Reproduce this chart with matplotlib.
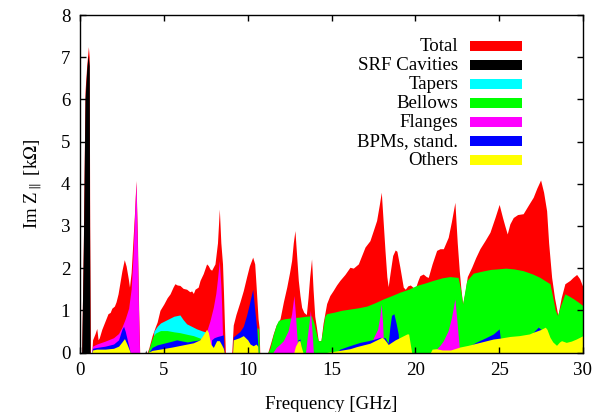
import matplotlib
matplotlib.use("Agg")
import matplotlib.pyplot as plt
from matplotlib.patches import Rectangle

plt.rcParams['font.family'] = ['Liberation Serif', 'DejaVu Serif']
plt.rcParams['mathtext.fontset'] = 'stix'

# frequency [GHz] and Im Z_par [kOhm] for each contribution, zeros close every lobe
f_total = [0.1, 0.2, 0.26, 0.3, 0.4, 0.5, 0.55, 0.58, 0.62,
           0.7, 0.75, 0.9, 1.0, 1.08, 1.15, 1.3, 1.5, 1.67, 1.8, 1.9, 2.05, 2.15, 2.27, 2.4, 2.5,
           2.64, 2.75, 2.88, 2.95, 3.05, 3.15, 3.25, 3.34, 3.42, 3.5, 3.56,
           4.0, 4.1, 4.3, 4.5, 4.6, 4.77, 5.0, 5.2, 5.37, 5.55, 5.66, 5.8, 5.96, 6.15, 6.36, 6.55,
           6.66, 6.76, 6.86, 7.05, 7.16, 7.35, 7.55, 7.65, 7.75, 7.85, 8.05, 8.2, 8.31, 8.4, 8.5,
           8.56, 8.62, 8.67,
           9.05, 9.14, 9.3, 9.54, 9.74, 9.94, 10.1, 10.3, 10.42, 10.5, 10.62, 10.68, 10.72,
           11.2, 11.35, 11.53, 11.7, 11.93, 12.13, 12.33, 12.5, 12.62, 12.72, 12.82, 12.92, 13.02,
           13.12, 13.22, 13.35, 13.5, 13.6, 13.7, 13.81, 13.9, 14.0, 14.1, 14.21, 14.37, 14.5,
           14.71, 14.9, 15.1, 15.3, 15.5, 15.8, 16.1, 16.3, 16.6, 16.8, 17.0, 17.29, 17.5, 17.69,
           17.85, 17.97, 18.05, 18.19, 18.3, 18.38, 18.5, 18.65, 18.8, 18.9, 19.08, 19.28, 19.4,
           19.55, 19.7, 19.85, 19.98, 20.15, 20.27, 20.47, 20.65, 20.77, 21.0, 21.27, 21.47,
           21.67, 21.96, 22.15, 22.36, 22.5, 22.62, 22.72, 22.82, 22.95, 23.1, 23.36, 23.6,
           23.85, 24.15, 24.45, 24.75, 25.0, 25.2, 25.34, 25.48, 25.64, 25.84, 26.1, 26.43,
           26.75, 27.03, 27.25, 27.47, 27.65, 27.83, 27.95, 28.13, 28.3, 28.5, 28.7, 28.92,
           29.22, 29.4, 29.62, 29.8, 30.0]
z_total = [0, 2.6, 4.8, 6.2, 6.8, 7.25, 7.0, 3.0, 0,
           0, 0.3, 0.45, 0.57, 0.3, 0.35, 0.55, 0.75, 0.92, 0.95, 1.05, 1.1, 1.2, 1.39, 1.7, 1.94,
           2.2, 2.05, 1.75, 1.55, 1.9, 2.6, 3.3, 4.08, 2.8, 1.0, 0,
           0, 0.1, 0.4, 0.62, 0.72, 1.0, 1.15, 1.3, 1.39, 1.55, 1.63, 1.6, 1.59, 1.52, 1.5, 1.44,
           1.46, 1.4, 1.5, 1.55, 1.71, 1.87, 2.1, 2.06, 1.98, 1.95, 2.1, 2.6, 3.4, 2.6, 2.1,
           1.4, 0.6, 0,
           0, 0.65, 0.9, 1.2, 1.47, 1.8, 2.05, 2.26, 2.1, 1.6, 0.8, 0.6, 0,
           0, 0.2, 0.45, 0.65, 0.8, 1.2, 1.55, 1.9, 2.18, 2.6, 2.89, 2.3, 1.71,
           1.35, 1.07, 0.95, 0.9, 1.3, 1.8, 2.22, 1.5, 0.86, 0.6, 0.28, 0.28, 0.7,
           1.16, 1.35, 1.47, 1.6, 1.71, 1.85, 2.02, 2.0, 2.1, 2.3, 2.5, 2.65, 2.9, 3.13,
           3.5, 3.8, 3.3, 2.42, 1.8, 1.56, 1.9, 2.3, 2.43, 2.4, 2.02, 1.55, 1.5,
           1.58, 1.6, 1.55, 1.5, 1.7, 1.82, 1.86, 1.8, 1.78, 2.1, 2.42, 2.46,
           2.46, 2.73, 3.1, 3.56, 2.6, 1.94, 1.5, 1.15, 1.4, 1.8, 2.02, 2.25,
           2.46, 2.65, 2.85, 3.2, 3.51, 3.2, 3.0, 2.81, 3.05, 3.2, 3.27, 3.29,
           3.5, 3.68, 3.9, 4.09, 3.8, 3.36, 2.6, 1.78, 1.3, 0.88, 1.3, 1.63,
           1.71, 1.78, 1.85, 1.75, 1.55]

f_srf = [0.1, 0.2, 0.26, 0.3, 0.4, 0.48, 0.55, 0.57, 0.6,
         0.95, 1.0, 1.05, 1.72, 1.76, 1.8, 2.15, 2.2, 2.25, 2.62, 2.66, 2.7,
         3.38, 3.42, 3.46, 3.88, 3.92, 3.96, 5.4, 5.44, 5.48, 7.86, 7.9, 7.94]
z_srf = [0, 2.5, 4.6, 6.0, 6.7, 7.05, 6.8, 3.0, 0,
         0, 0.12, 0, 0, 0.1, 0, 0, 0.15, 0, 0, 0.12, 0,
         0, 0.08, 0, 0, 0.06, 0, 0, 0.05, 0, 0, 0.05, 0]

f_tapers = [4.35, 4.4, 4.6, 4.8, 5.2, 5.6, 5.96, 6.15, 6.36, 6.66, 6.96, 7.3, 7.55, 7.6]
z_tapers = [0, 0.5, 0.62, 0.7, 0.78, 0.86, 0.89, 0.78, 0.68, 0.62, 0.56, 0.51, 0.48, 0]

f_bellows = [4.05, 4.2, 4.35, 4.5, 4.8, 5.2, 5.6, 5.96, 6.4, 6.76, 7.1, 7.35, 7.45,
             10.52, 10.56, 10.66, 10.7,
             11.2, 11.33, 11.53, 11.7, 11.83, 12.2, 12.6, 13.12, 13.5, 13.8, 13.95, 14.1, 14.21,
             14.37, 14.5, 14.6, 14.71, 15.2, 15.6, 16.1, 16.6, 17.1, 17.6, 18.09, 18.6, 19.08,
             19.6, 20.08, 20.6, 21.07, 21.6, 22.06, 22.55, 22.7, 22.82, 22.95, 23.06, 23.45,
             24.0, 24.5, 24.85, 25.4, 25.9, 26.43, 27.0, 27.43, 28.03, 28.2, 28.35, 28.48,
             28.65, 28.92, 29.2, 29.41, 29.7, 30.0]
z_bellows = [0, 0.2, 0.38, 0.46, 0.52, 0.52, 0.49, 0.47, 0.43, 0.4, 0.35, 0.31, 0,
             0, 0.6, 0.55, 0,
             0, 0.1, 0.43, 0.65, 0.76, 0.8, 0.82, 0.84, 0.86, 0.87, 0.7, 0.45, 0.28,
             0.28, 0.6, 0.86, 0.92, 0.96, 1.0, 1.03, 1.06, 1.1, 1.18, 1.27, 1.35, 1.43,
             1.5, 1.59, 1.65, 1.71, 1.77, 1.8, 1.78, 1.5, 1.15, 1.45, 1.7, 1.88,
             1.93, 1.97, 1.98, 2.0, 1.98, 1.94, 1.86, 1.78, 1.63, 1.3, 1.0, 0.88,
             1.1, 1.39, 1.33, 1.28, 1.2, 1.11]

f_flanges = [0.7, 0.75, 1.0, 1.5, 2.0, 2.3, 2.5, 2.7, 2.9, 3.05, 3.15, 3.25, 3.34, 3.42, 3.5, 3.55,
             6.9, 6.96, 7.3, 7.55, 7.75, 7.95, 8.1, 8.19, 8.31, 8.4, 8.45, 8.5, 8.55,
             11.5, 11.7, 11.93, 12.13, 12.42, 12.62, 12.76, 12.85, 12.95, 13.0,
             13.45, 13.57, 13.66, 13.74, 13.82, 13.92,
             17.3, 17.5, 17.75, 17.88, 17.96, 18.05, 18.12,
             21.2, 21.3, 21.47, 21.67, 21.96, 22.16, 22.28, 22.36, 22.62, 22.64,
             27.25, 27.38, 27.5]
z_flanges = [0, 0.15, 0.2, 0.27, 0.35, 0.45, 0.6, 0.8, 1.05, 1.5, 2.2, 3.2, 4.04, 2.5, 0.8, 0,
             0, 0.2, 0.38, 0.5, 0.75, 1.07, 1.4, 1.71, 2.18, 1.6, 1.1, 0.4, 0,
             0, 0.12, 0.2, 0.28, 0.52, 0.92, 1.35, 0.9, 0.3, 0,
             0, 0.43, 0.7, 1.0, 0.6, 0,
             0, 0.35, 0.55, 0.85, 1.15, 0.7, 0,
             0, 0.1, 0.17, 0.28, 0.52, 0.84, 1.1, 1.27, 0.13, 0,
             0, 0.64, 0]

f_bpms = [0.7, 0.75, 1.0, 1.5, 2.0, 2.3, 2.5, 2.6, 2.7, 2.85, 3.0,
          4.1, 4.3, 4.6, 5.0, 5.4, 5.77, 6.0, 6.4, 6.8, 7.2, 7.5, 7.6,
          7.8, 7.85, 8.0, 8.2, 8.4, 8.55, 8.6,
          9.1, 9.14, 9.54, 9.74, 9.94, 10.1, 10.3, 10.4, 10.53, 10.6, 10.62,
          12.9, 13.0, 13.12, 13.2, 13.25,
          15.3, 15.5, 16.0, 16.7, 17.2, 17.59, 17.9, 18.2, 18.38, 18.48, 18.58, 18.72, 18.85,
          18.98, 19.05,
          23.0, 23.2, 23.65, 24.2, 24.65, 25.0, 25.08, 25.12,
          27.0, 27.03, 27.33, 27.5, 27.6]
z_bpms = [0, 0.1, 0.12, 0.15, 0.2, 0.3, 0.55, 0.62, 0.5, 0.25, 0,
          0, 0.12, 0.18, 0.22, 0.26, 0.3, 0.28, 0.25, 0.28, 0.3, 0.28, 0,
          0, 0.3, 0.35, 0.38, 0.4, 0.42, 0,
          0, 0.37, 0.5, 0.62, 0.89, 1.15, 1.5, 1.1, 0.6, 0.2, 0,
          0, 0.3, 0.32, 0.1, 0,
          0, 0.08, 0.15, 0.24, 0.28, 0.32, 0.36, 0.35, 0.22, 0.6, 0.88, 0.92, 0.7,
          0.44, 0,
          0, 0.15, 0.25, 0.35, 0.44, 0.56, 0.3, 0,
          0, 0.48, 0.6, 0.55, 0]

f_others = [0.7, 0.75, 1.0, 1.5, 2.0, 2.3, 2.5, 2.65, 2.8, 2.95, 3.0,
            4.05, 4.3, 4.77, 5.5, 6.0, 6.76, 7.15, 7.35, 7.55, 7.65, 7.8, 7.95, 8.15, 8.31,
            8.45, 8.55, 8.6,
            9.1, 9.14, 9.5, 9.74, 10.0, 10.15, 10.33, 10.5, 10.6, 10.62,
            12.75, 12.85, 13.02, 13.12, 13.22, 13.3,
            14.7, 15.5, 16.1, 16.5, 17.29, 17.7, 18.0, 18.1, 18.3, 18.38, 18.8, 19.2, 19.5,
            19.6, 19.78,
            20.9, 21.0, 21.27, 21.6, 22.1, 22.66, 23.15, 23.65, 24.15, 24.65, 25.04, 25.64,
            26.2, 26.8, 27.03, 27.45, 27.75, 27.85, 28.03, 28.2, 28.42, 28.6, 28.72, 29.0,
            29.3, 29.6, 30.0]
z_others = [0, 0.06, 0.08, 0.08, 0.1, 0.15, 0.25, 0.33, 0.2, 0.05, 0,
            0, 0.05, 0.08, 0.13, 0.17, 0.23, 0.3, 0.42, 0.55, 0.48, 0.2, 0.12, 0.28, 0.28,
            0.18, 0.1, 0,
            0, 0.3, 0.35, 0.4, 0.3, 0.2, 0.16, 0.2, 0.15, 0,
            0, 0.15, 0.28, 0.28, 0.1, 0,
            0, 0.05, 0.09, 0.14, 0.22, 0.3, 0.36, 0.34, 0.24, 0.19, 0.3, 0.38, 0.44,
            0.44, 0,
            0, 0.08, 0.09, 0.06, 0.06, 0.13, 0.17, 0.22, 0.27, 0.32, 0.34, 0.38,
            0.4, 0.44, 0.48, 0.54, 0.6, 0.55, 0.36, 0.25, 0.17, 0.25, 0.28, 0.24,
            0.27, 0.32, 0.4]

labels = ["Total", "SRF Cavities", "Tapers", "Bellows", "Flanges", "BPMs, stand.", "Others"]
colors = ["#ff0000", "#000000", "#00ffff", "#00ff00", "#ff00ff", "#0000ff", "#ffff00"]
series = [(f_total, z_total), (f_srf, z_srf), (f_tapers, z_tapers), (f_bellows, z_bellows),
          (f_flanges, z_flanges), (f_bpms, z_bpms), (f_others, z_others)]

fig = plt.figure(figsize=(6.01, 4.12), dpi=100)
ax = fig.add_axes([80 / 601, 1 - 352.5 / 412, 503 / 601, 337.5 / 412])

# each curve filled from zero, later ones painted over earlier ones
for (f, z), c in zip(series, colors):
    ax.fill_between(f, 0, z, color=c, linewidth=0)

ax.set_xlim(0, 30)
ax.set_ylim(0, 8)
ax.set_xticks(range(0, 31, 5))
ax.set_yticks(range(0, 9))
ax.tick_params(direction='in', top=True, right=True, length=4, width=1,
               labelsize=13.6, pad=7)
for s in ax.spines.values():
    s.set_linewidth(1.0)
    s.set_zorder(5)

ax.set_xlabel("Frequency [GHz]", fontsize=13.6, labelpad=12)
ax.set_ylabel(r"Im Z$_{\parallel}$ [k$\Omega$]", fontsize=13.6, labelpad=12)

# key: right aligned names with a colour bar after each
y0 = 0.907
dy = 19.0 / 337.5
for i, (name, c) in enumerate(zip(labels, colors)):
    y = y0 - i * dy
    ax.text(0.7515, y, name, ha='right', va='center', fontsize=13.6, transform=ax.transAxes)
    ax.add_patch(Rectangle((0.7753, y - 0.0148), 0.1034, 0.0296, transform=ax.transAxes,
                           facecolor=c, edgecolor='none', zorder=4))

fig.savefig("out.png", dpi=100)
